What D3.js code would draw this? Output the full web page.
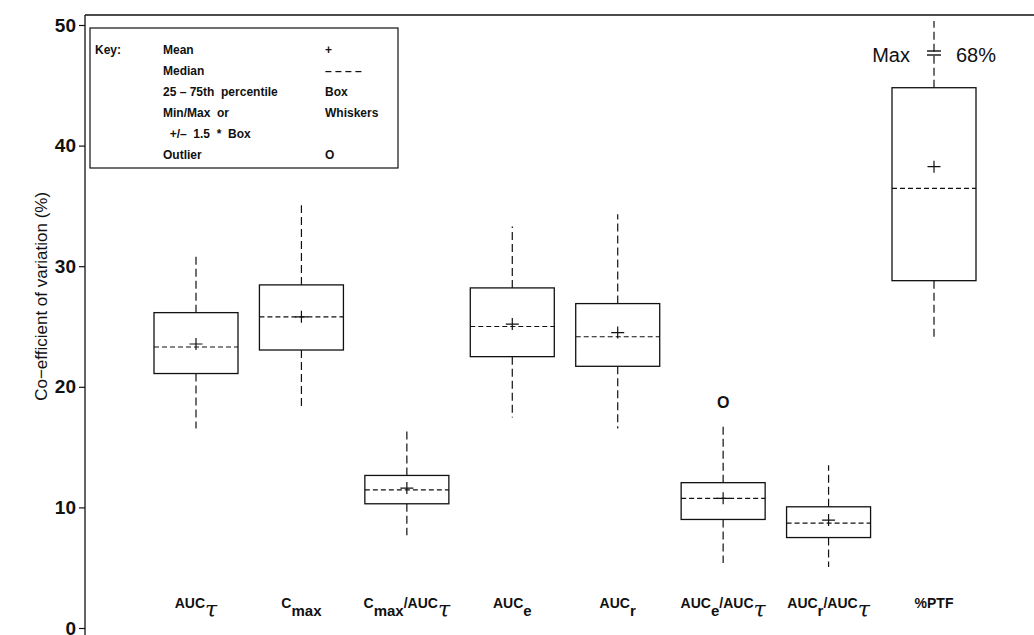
<!DOCTYPE html>
<html>
<head>
<meta charset="utf-8">
<script src="https://cdn.jsdelivr.net/npm/d3@7"></script>
<style>
  body { margin: 0; background: #fff; }
  text { font-family: "Liberation Sans", Arial, Helvetica, sans-serif; fill: #111; }
</style>
</head>
<body>
<div class="chart"></div>
<script>
// categories and their printed labels (base text + subscripts)
const categories = ['AUCt', 'Cmax', 'Cmax/AUCt', 'AUCe', 'AUCr', 'AUCe/AUCt', 'AUCr/AUCt', '%PTF'];
const labelParts = [
    [['AUC', ''], ['τ', 'tau']],
    [['C', ''], ['max', 'sub']],
    [['C', ''], ['max', 'sub'], ['/AUC', 'up'], ['τ', 'tau']],
    [['AUC', ''], ['e', 'sub']],
    [['AUC', ''], ['r', 'sub']],
    [['AUC', ''], ['e', 'sub'], ['/AUC', 'up'], ['τ', 'tau']],
    [['AUC', ''], ['r', 'sub'], ['/AUC', 'up'], ['τ', 'tau']],
    [['%PTF', '']]
]

// box plot statistics (%)
const q1          = [21.1, 23.05, 10.3, 22.5, 21.7, 9.0, 7.5, 28.8];
const median      = [23.3, 25.8, 11.45, 25.0, 24.15, 10.75, 8.7, 36.45];
const q3          = [26.15, 28.45, 12.65, 28.2, 26.9, 12.05, 10.05, 44.8];
const mean        = [23.55, 25.8, 11.6, 25.2, 24.5, 10.75, 8.95, 38.25];
const whiskerLow  = [16.55, 18.35, 7.7, 17.45, 16.55, 5.4, 5.05, 23.9];
const whiskerHigh = [31.1, 35.05, 16.45, 33.3, 34.3, 16.7, 13.5, 68];
const outliers = [{ cat: 'AUCe/AUCt', value: 18.7 }];

const yTicks = [0, 10, 20, 30, 40, 50];

const keyRows = [
    ['Key:', 'Mean', '+'],
    ['', 'Median', '– – – –'],
    ['', '25 – 75th  percentile', 'Box'],
    ['', 'Min/Max  or', 'Whiskers'],
    ['', '  +/–  1.5  *  Box', ''],
    ['', 'Outlier', 'O']
];

const width = 1034, height = 635;
const axisX = 85, frameTop = 15;

const svg = d3.select('.chart')
    .append('svg')
    .attr('width', width)
    .attr('height', height)
    .attr('viewBox', [0, 0, width, height]);

const y = d3.scaleLinear()
    .domain([0, 50])
    .range([628, 25]);

const x = d3.scalePoint()
    .domain(categories)
    .range([196, 934]);

const boxW = 84;
const yLimit = y.invert(21);   // whiskers past the top are cut here

// frame: left axis + top line
svg.append('line')
    .attr('x1', axisX).attr('x2', axisX)
    .attr('y1', frameTop).attr('y2', height)
    .attr('stroke', '#111').attr('stroke-width', 1.3);
svg.append('line')
    .attr('x1', axisX).attr('x2', width)
    .attr('y1', frameTop).attr('y2', frameTop)
    .attr('stroke', '#111').attr('stroke-width', 1.3);

const yAxis = svg.append('g')
    .attr('transform', `translate(${axisX},0)`)
    .call(d3.axisLeft(y).tickValues(yTicks).tickSize(6).tickPadding(3));
yAxis.select('.domain').remove();
yAxis.selectAll('line').attr('stroke', '#111').attr('stroke-width', 1.2);
yAxis.selectAll('text')
    .attr('font-size', 19)
    .attr('font-weight', 'bold')
    .attr('fill', '#111')
    .style('font-family', '"Liberation Sans", Arial, sans-serif');

svg.append('text')
    .attr('transform', `translate(47,${y(27.5)}) rotate(-90)`)
    .attr('text-anchor', 'middle')
    .attr('font-size', 17)
    .text('Co−efficient  of  variation  (%)');

// boxes
const stats = categories.map((c, i) => ({
    cat: c, q1: q1[i], med: median[i], q3: q3[i], mean: mean[i],
    lo: whiskerLow[i], hi: whiskerHigh[i], parts: labelParts[i]
}));

const g = svg.selectAll('g.box')
    .data(stats)
    .enter()
    .append('g')
    .attr('class', 'box');

// whiskers
g.append('line')
    .attr('x1', d => x(d.cat)).attr('x2', d => x(d.cat))
    .attr('y1', d => y(d.q3)).attr('y2', d => y(Math.min(d.hi, yLimit)))
    .attr('stroke', '#111').attr('stroke-width', 1.2)
    .attr('stroke-dasharray', '8,4');
g.append('line')
    .attr('x1', d => x(d.cat)).attr('x2', d => x(d.cat))
    .attr('y1', d => y(d.q1)).attr('y2', d => y(d.lo))
    .attr('stroke', '#111').attr('stroke-width', 1.2)
    .attr('stroke-dasharray', '8,4');

g.append('rect')
    .attr('x', d => x(d.cat) - boxW / 2)
    .attr('width', boxW)
    .attr('y', d => y(d.q3))
    .attr('height', d => y(d.q1) - y(d.q3))
    .attr('fill', '#fff')
    .attr('stroke', '#111')
    .attr('stroke-width', 1.3);

g.append('line')
    .attr('x1', d => x(d.cat) - boxW / 2).attr('x2', d => x(d.cat) + boxW / 2)
    .attr('y1', d => y(d.med)).attr('y2', d => y(d.med))
    .attr('stroke', '#111').attr('stroke-width', 1.2)
    .attr('stroke-dasharray', '5,3');

// mean marker "+"
g.append('path')
    .attr('d', d => {
        const cx = x(d.cat), cy = y(d.mean);
        return `M${cx - 6.5},${cy}H${cx + 6.5}M${cx},${cy - 6}V${cy + 6}`;
    })
    .attr('stroke', '#111').attr('stroke-width', 1.2);

// outliers
svg.selectAll('text.outlier')
    .data(outliers)
    .enter()
    .append('text')
    .attr('class', 'outlier')
    .attr('x', d => x(d.cat))
    .attr('y', d => y(d.value) + 6)
    .attr('text-anchor', 'middle')
    .attr('font-size', 16)
    .attr('font-weight', 'bold')
    .text('O');

// clipped max annotation
const clipped = stats.filter(d => d.hi > yLimit);
clipped.forEach(d => {
    const cx = x(d.cat);
    const by = y(yLimit) + 32;
    [-2, 2].forEach(o => {
        svg.append('line')
            .attr('x1', cx - 7).attr('x2', cx + 7)
            .attr('y1', by + o).attr('y2', by + o)
            .attr('stroke', '#111').attr('stroke-width', 1.4);
    });
    svg.append('text')
        .attr('x', cx - 24).attr('y', by + 9)
        .attr('text-anchor', 'end')
        .attr('font-size', 20)
        .text('Max');
    svg.append('text')
        .attr('x', cx + 22).attr('y', by + 9)
        .attr('font-size', 20)
        .text(d3.format('d')(d.hi) + '%');
});

// category labels
const labels = svg.selectAll('text.cat')
    .data(stats)
    .enter()
    .append('text')
    .attr('class', 'cat')
    .attr('x', d => x(d.cat))
    .attr('y', 608)
    .attr('text-anchor', 'middle')
    .attr('font-size', 14)
    .attr('font-weight', 'bold');

labels.each(function (d) {
    const t = d3.select(this);
    let shift = 0;
    d.parts.forEach(([txt, kind]) => {
        const target = kind === 'sub' ? 8 : kind === 'tau' ? 9 : 0;
        const span = t.append('tspan').attr('dy', target - shift).text(txt);
        if (kind === 'sub') span.attr('font-size', 15);
        if (kind === 'tau') {
            span.attr('font-size', 22).attr('font-style', 'italic')
                .attr('font-weight', 'normal')
                .style('font-family', '"DejaVu Serif", serif');
        }
        shift = target;
    });
});

// key box
const key = svg.append('g');
key.append('rect')
    .attr('x', 90).attr('y', 28)
    .attr('width', 308).attr('height', 140)
    .attr('fill', '#fff')
    .attr('stroke', '#111').attr('stroke-width', 1.2);

const rowY = d3.scalePoint().domain(d3.range(keyRows.length)).range([54, 159]);
const cols = [95, 163, 325];
keyRows.forEach((r, i) => {
    r.forEach((txt, j) => {
        if (!txt) return;
        key.append('text')
            .attr('x', cols[j])
            .attr('y', rowY(i))
            .attr('font-size', 12)
            .attr('font-weight', 'bold')
            .attr('xml:space', 'preserve')
            .style('white-space', 'pre')
            .text(txt);
    });
});
</script>
</body>
</html>
